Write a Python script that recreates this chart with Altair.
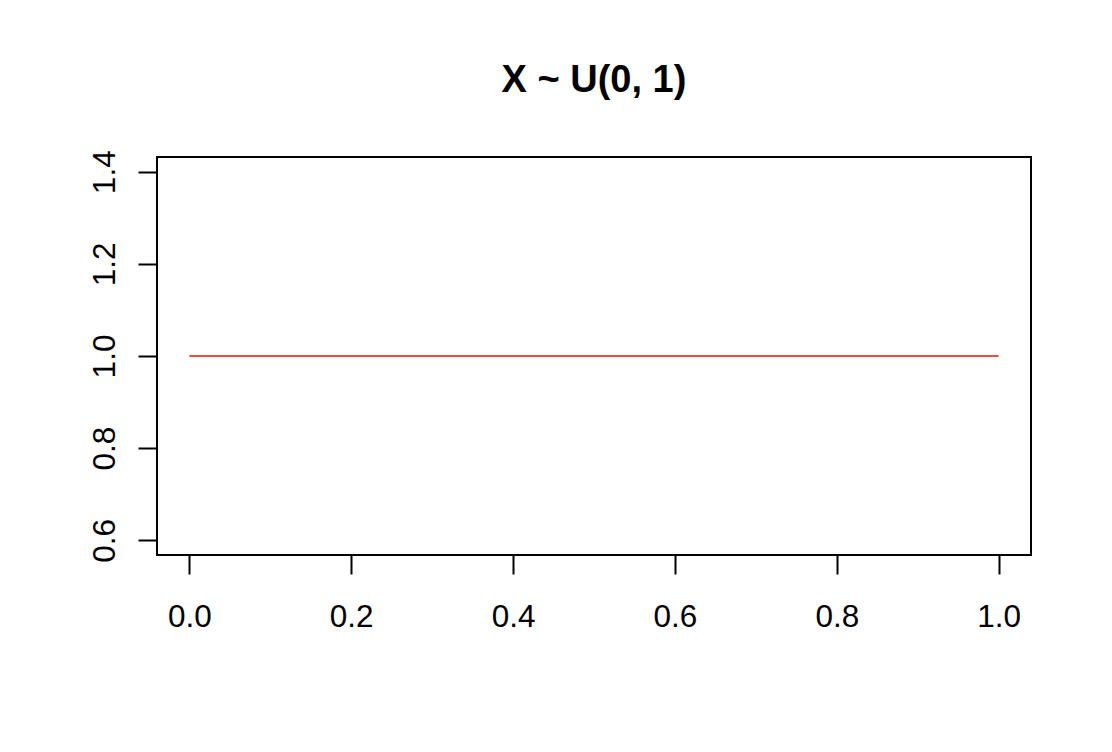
import altair as alt
import pandas as pd

# Data: uniform density on [0, 1]
x_vals = [0.0, 1.0]
density = [1.0, 1.0]
x_ticks = [0.0, 0.2, 0.4, 0.6, 0.8, 1.0]
y_ticks = [0.6, 0.8, 1.0, 1.2, 1.4]
title_text = "X ~ U(0, 1)"

df = pd.DataFrame({"x": x_vals, "y": density})

FONT = "Liberation Sans"

chart = (
    alt.Chart(df)
    .mark_line(color="#f24a3d", strokeWidth=2)
    .encode(
        x=alt.X(
            "x:Q",
            scale=alt.Scale(domain=[-0.04, 1.04], nice=False, zero=False),
            axis=alt.Axis(
                values=x_ticks,
                format=".1f",
                title=None,
                grid=False,
                domain=False,
                tickSize=19,
                tickWidth=2,
                tickColor="black",
                labelFont=FONT,
                labelFontSize=31.5,
                labelColor="black",
                labelBaseline="alphabetic",
                labelPadding=52,
                labelFlush=False,
            ),
        ),
        y=alt.Y(
            "y:Q",
            scale=alt.Scale(domain=[0.568, 1.432], nice=False, zero=False),
            axis=alt.Axis(
                values=y_ticks,
                format=".1f",
                title=None,
                grid=False,
                domain=False,
                tickSize=19,
                tickWidth=2,
                tickColor="black",
                labelFont=FONT,
                labelFontSize=31.5,
                labelColor="black",
                labelAngle=270,
                labelAlign="center",
                labelBaseline="alphabetic",
                labelPadding=24,
                labelFlush=False,
            ),
        ),
    )
    .properties(
        width=874,
        height=398,
        background="white",
        title=alt.TitleParams(
            text=title_text,
            font=FONT,
            fontSize=38,
            fontWeight="bold",
            color="black",
            anchor="middle",
            baseline="alphabetic",
            offset=20,
        ),
        padding={"left": 149, "top": 149, "right": 73, "bottom": 160},
        autosize=alt.AutoSizeParams(type="none"),
    )
    .configure_view(stroke="black", strokeWidth=2)
)

chart.save("out.html", embed_options={"renderer": "svg", "actions": False})
